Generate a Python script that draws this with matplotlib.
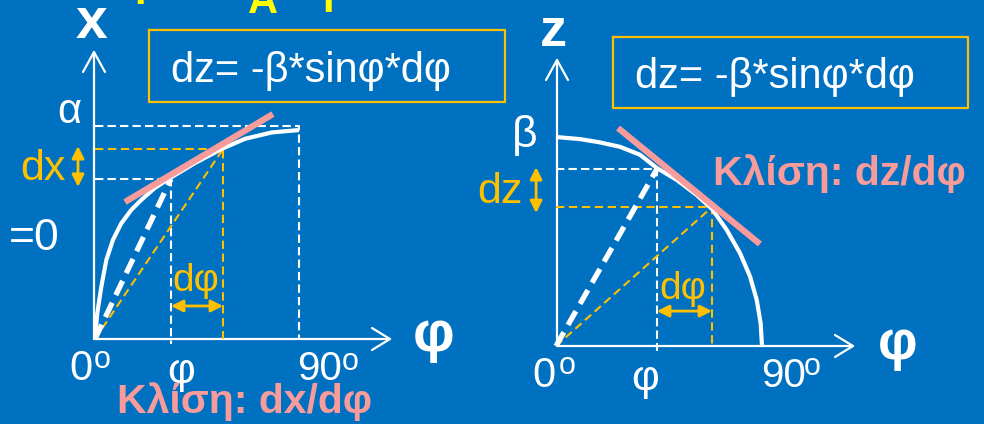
import matplotlib
matplotlib.use("Agg")
import matplotlib.pyplot as plt

# ---------------- data ----------------
left_phi = [0, 1.0, 2.8, 5.0, 7.9, 11.6, 16.0, 20.4, 26.3, 32.2, 44.1, 56.0, 66.2, 78.1, 90]
left_x = [0, 0.121, 0.246, 0.371, 0.465, 0.543, 0.606, 0.653, 0.708, 0.750,
          0.826, 0.893, 0.940, 0.970, 0.981]
left_marks_phi = [33.5, 56.5]
left_marks_x = [0.751, 0.892]
left_tan_phi = [13.2, 78.5]
left_tan_x = [0.643, 1.056]

right_phi = [0, 10.5, 18.8, 28.0, 36.7, 44.0, 52.7, 61.5, 68.2, 74.5, 80.4, 84.8,
             87.7, 89.4, 90]
right_z = [1.0, 0.990, 0.975, 0.953, 0.915, 0.852, 0.795, 0.722, 0.655, 0.557,
           0.444, 0.332, 0.220, 0.109, 0]
right_marks_phi = [44.1, 68.2]
right_marks_z = [0.847, 0.665]
right_tan_phi = [27.1, 89.1]
right_tan_z = [1.043, 0.488]

formula = "dz= -β*sinφ*dφ"
left_slope_label = "Κλίση: dx/dφ"
right_slope_label = "Κλίση: dz/dφ"

# ---------------- style ----------------
BG = "#0070C0"
WHITE = "white"
GOLD = "#FFC000"
PINK = "#F79B9B"
YELLOW = "#FFFF00"
FONT = "Liberation Sans"

W, H = 984, 424
fig = plt.figure(figsize=(W / 100, H / 100), dpi=100, facecolor=BG)

# pixel overlay axes (for layout: axes arrows, boxes, labels)
ov = fig.add_axes([0, 0, 1, 1])
ov.set_xlim(0, W)
ov.set_ylim(H, 0)
ov.axis("off")
ov.patch.set_alpha(0)


def axis_arrows(ox, oy, ytip, xtip):
    kw = dict(color=WHITE, lw=1.6, solid_capstyle="round", zorder=2)
    ov.plot([ox, ox], [oy, ytip], **kw)
    ov.plot([ox - 11, ox, ox + 11], [ytip + 20, ytip, ytip + 20], **kw)
    ov.plot([ox, xtip], [oy, oy], **kw)
    ov.plot([xtip - 18, xtip, xtip - 18], [oy - 11, oy, oy + 11], **kw)


axis_arrows(94, 339, 52, 390)
axis_arrows(557, 346, 60, 853)

# formula boxes
for (x0, y0, x1, y1, tx, ty) in [(149, 30, 505, 102, 171, 82),
                                 (613, 37, 968, 108, 635, 88)]:
    ov.plot([x0, x1, x1, x0, x0], [y0, y0, y1, y1, y0], color=GOLD, lw=1.6)
    ov.text(tx, ty, formula, color=WHITE, fontsize=30, family=FONT,
            va="baseline", ha="left")


def panel(px0, px90, py0, py1, phi, val, mphi, mval, tphi, tval, top_line):
    ax = fig.add_axes([px0 / W, (H - py0) / H, (px90 - px0) / W, (py0 - py1) / H])
    ax.set_xlim(0, 90)
    ax.set_ylim(0, 1)
    ax.axis("off")
    ax.patch.set_alpha(0)
    thin_w = dict(color=WHITE, lw=1.5, dashes=(4, 2), clip_on=False)
    thin_y = dict(color=GOLD, lw=1.5, dashes=(4, 2.2), clip_on=False)
    if top_line:
        ax.plot([0, 90, 90], [1, 1, 0], **thin_w)
    # guide lines
    ax.plot([0, mphi[0], mphi[0]], [mval[0], mval[0], -0.025], **thin_w)
    ax.plot([0, mphi[1], mphi[1]], [mval[1], mval[1], 0], **thin_y)
    # chords
    ax.plot([0, mphi[1]], [0, mval[1]], **thin_y)
    ax.plot([0, mphi[0]], [0, mval[0]], color=WHITE, lw=3.8, dashes=(3, 1.6),
            clip_on=False)
    # curve
    ax.plot(phi, val, color=WHITE, lw=3, clip_on=False, solid_capstyle="butt",
            solid_joinstyle="round")
    # tangent
    ax.plot(tphi, tval, color=PINK, lw=4.5, clip_on=False, solid_capstyle="butt")
    return ax


axL = panel(95, 299, 339, 126, left_phi, left_x, left_marks_phi, left_marks_x,
            left_tan_phi, left_tan_x, True)
axR = panel(556, 762, 346, 137, right_phi, right_z, right_marks_phi, right_marks_z,
            right_tan_phi, right_tan_z, False)

arrow_kw = dict(arrowstyle="<|-|>", color=GOLD, lw=2, mutation_scale=18,
                shrinkA=0, shrinkB=0)
axL.annotate("", xy=(left_marks_phi[1], 0.155), xytext=(left_marks_phi[0], 0.155),
             arrowprops=arrow_kw, annotation_clip=False)
axL.annotate("", xy=(-7.5, 0.906), xytext=(-7.5, 0.714),
             arrowprops=arrow_kw, annotation_clip=False)
axR.annotate("", xy=(right_marks_phi[1], 0.167), xytext=(right_marks_phi[0], 0.167),
             arrowprops=arrow_kw, annotation_clip=False)
axR.annotate("", xy=(-8.7, 0.856), xytext=(-8.7, 0.636),
             arrowprops=arrow_kw, annotation_clip=False)


def t(x, y, s, size, color=WHITE, bold=False, ha="left"):
    ov.text(x, y, s, color=color, fontsize=size, family=FONT, va="baseline",
            ha=ha, fontweight="bold" if bold else "normal")


# partial yellow title at the very top
t(134, 4, "Ι", 30, YELLOW, True)
t(248, 13, "Α", 30, YELLOW, True)
t(322, 12, "Ι", 30, YELLOW, True)

# axis names
t(76, 38, "x", 41, bold=True)
t(540, 46, "z", 39, bold=True)
t(413, 351, "φ", 42, bold=True)
t(878, 359, "φ", 40, bold=True)

# left labels
t(57, 123, "α", 30)
t(20, 180, "dx", 31, GOLD)
t(9, 250, "=0", 32)
t(172, 291, "dφ", 28, GOLD)
t(69, 380, "0", 30)
t(94, 368, "o", 22)
t(167, 383, "φ", 31)
t(297, 380, "90", 29)
t(342, 370, "o", 22)
t(117, 413, left_slope_label, 29.5, PINK, True)

# right labels
t(512, 147, "β", 32)
t(523, 203, "dz", 31, GOLD, ha="right")
t(659, 299, "dφ", 28, GOLD)
t(532, 387, "0", 30)
t(559, 374, "o", 22)
t(631, 390, "φ", 31)
t(761, 387, "90", 29)
t(804, 375, "o", 22)
t(713, 185, right_slope_label, 29.5, PINK, True)

fig.savefig("out.png", dpi=100, facecolor=BG)
